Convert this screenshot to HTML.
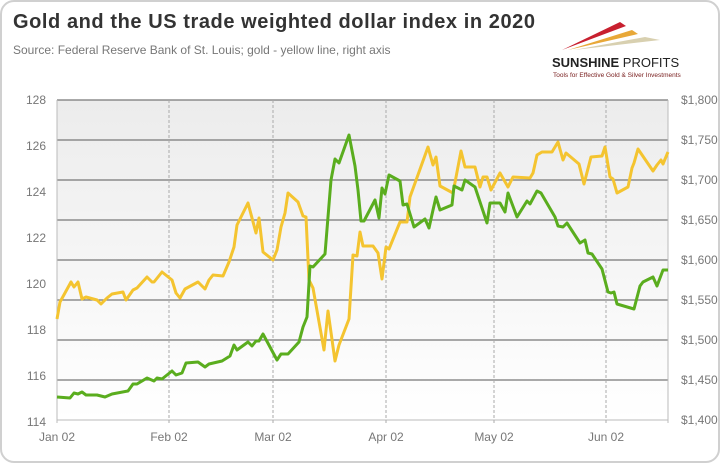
<!DOCTYPE html>
<html><head><meta charset="utf-8"><style>
body{margin:0;background:#fff;}
.card{position:absolute;left:0;top:0;width:716px;height:459px;border:2px solid #d0d0d0;border-radius:14px;background:#fff;}
svg{position:absolute;left:0;top:0;}
text{font-family:"Liberation Sans",sans-serif;}
</style></head><body>
<div class="card"></div>
<svg width="720" height="463" viewBox="0 0 720 463">
<defs><linearGradient id="bg" x1="0" y1="0" x2="0" y2="1"><stop offset="0" stop-color="#ececec"/><stop offset="1" stop-color="#ffffff"/></linearGradient></defs>
<text x="13" y="28" font-size="20" font-weight="bold" fill="#333" textLength="522">Gold and the US trade weighted dollar index in 2020</text>
<text x="13" y="54" font-size="12" fill="#777">Source: Federal Reserve Bank of St. Louis; gold - yellow line, right axis</text>
<polygon points="562,50 620,22 626,26" fill="#c8202f"/>
<polygon points="568,50 632,30 638,34" fill="#e8a838"/>
<polygon points="574,50 645,37 660,40" fill="#d8d0b0"/>
<text x="552" y="67" font-size="13" font-weight="bold" fill="#222">SUNSHINE <tspan font-weight="normal">PROFITS</tspan></text>
<text x="553" y="77" font-size="6.5" fill="#7a2020">Tools for Effective Gold &amp; Silver Investments</text>
<rect x="57" y="100" width="611" height="320" fill="url(#bg)"/>
<g stroke="#777" stroke-width="1.2">
<line x1="57" y1="100" x2="668" y2="100"/><line x1="57" y1="140" x2="668" y2="140"/><line x1="57" y1="180" x2="668" y2="180"/><line x1="57" y1="220" x2="668" y2="220"/><line x1="57" y1="260" x2="668" y2="260"/><line x1="57" y1="300" x2="668" y2="300"/><line x1="57" y1="340" x2="668" y2="340"/><line x1="57" y1="380" x2="668" y2="380"/>
</g>
<line x1="57" y1="420" x2="668" y2="420" stroke="#bbb"/>
<line x1="57" y1="100" x2="57" y2="423" stroke="#bbb"/>
<line x1="668" y1="100" x2="668" y2="423" stroke="#bbb"/>
<g stroke="#aaa" stroke-dasharray="3,2">
<line x1="169" y1="100" x2="169" y2="423"/><line x1="273" y1="100" x2="273" y2="423"/><line x1="386" y1="100" x2="386" y2="423"/><line x1="494" y1="100" x2="494" y2="423"/><line x1="606" y1="100" x2="606" y2="423"/>
</g>
<g font-size="12" fill="#777" text-anchor="end">
<text x="46" y="104">128</text><text x="46" y="150">126</text><text x="46" y="196">124</text><text x="46" y="242">122</text><text x="46" y="288">120</text><text x="46" y="334">118</text><text x="46" y="380">116</text><text x="46" y="426">114</text>
</g>
<g font-size="12" fill="#777" text-anchor="start">
<text x="681" y="104">$1,800</text><text x="681" y="144">$1,750</text><text x="681" y="184">$1,700</text><text x="681" y="224">$1,650</text><text x="681" y="264">$1,600</text><text x="681" y="304">$1,550</text><text x="681" y="344">$1,500</text><text x="681" y="384">$1,450</text><text x="681" y="424">$1,400</text>
</g>
<g font-size="12" fill="#777" text-anchor="middle">
<text x="57" y="441">Jan 02</text><text x="169" y="441">Feb 02</text><text x="273" y="441">Mar 02</text><text x="386" y="441">Apr 02</text><text x="494" y="441">May 02</text><text x="606" y="441">Jun 02</text>
</g>
<polyline fill="none" stroke="#f4c430" stroke-width="3" stroke-linejoin="round" points="57,319 60,302 71,282 74,287 78,282 82,299 86,297 97,300 101,304 107,298 112,294 123,292 126,300 133,290 137,288 147,277 152,282 154,282 162,272 172,280 176,293 180,298 185,289 198,282 205,289 209,280 213,275 223,276 229,262 234,247 237,225 248,203 256,233 259,218 263,252 273,260 277,250 281,227 285,213 288,193 298,202 303,216 306,217 309,280 313,288 324,350 328,311 335,361 339,345 349,319 353,255 357,256 360,232 363,246 373,246 378,253 382,279 386,247 389,249 400,222 407,222 410,197 428,147 433,165 436,157 440,186 453,193 461,151 465,167 475,167 480,187 483,177 487,177 491,190 500,173 508,187 513,177 530,178 533,173 537,155 542,152 552,152 558,142 563,160 566,153 579,164 584,184 591,157 602,156 605,147 610,177 613,179 617,193 628,187 632,168 634,163 638,149 653,171 657,165 661,160 663,164 668,152"/>
<polyline fill="none" stroke="#5aad1e" stroke-width="3" stroke-linejoin="round" points="57,397 70,398 74,393 78,394 82,392 86,395 97,395 105,397 112,394 128,391 133,384 137,384 147,378 154,381 157,378 162,379 172,371 176,375 182,373 186,363 198,362 205,367 209,364 222,361 230,356 234,345 237,350 248,342 252,346 256,341 259,341 263,334 277,360 281,354 288,354 299,342 303,327 307,317 310,266 313,267 325,254 331,180 335,159 339,163 349,135 355,166 358,190 361,221 364,221 375,200 379,218 382,188 385,194 389,175 400,181 403,205 407,204 414,227 425,219 429,228 433,210 436,197 440,210 452,205 454,186 462,190 465,180 475,187 487,223 490,203 500,203 505,212 508,193 517,217 527,201 530,204 537,191 541,193 555,217 558,226 563,227 567,223 580,243 585,240 588,253 592,254 602,269 608,292 611,293 614,292 617,304 634,309 640,286 643,282 653,277 657,286 663,270 668,270"/>
</svg>
</body></html>
